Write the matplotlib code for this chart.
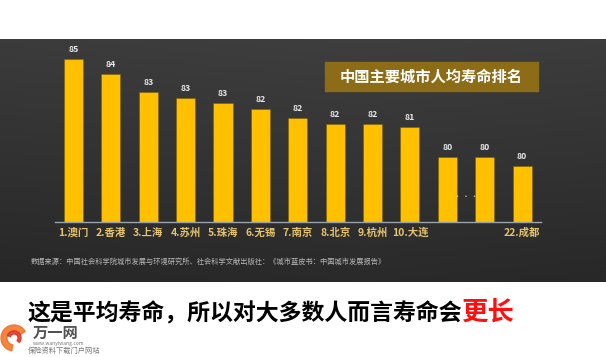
import matplotlib
matplotlib.use("Agg")
import matplotlib.pyplot as plt
from matplotlib.patches import Rectangle, Wedge
import numpy as np

plt.rcParams['font.family'] = ['Noto Sans CJK SC', 'DejaVu Sans']

# data
cities = ['1.澳门', '2.香港', '3.上海', '4.苏州', '5.珠海', '6.无锡', '7.南京',
          '8.北京', '9.杭州', '10.大连', '', '', '22.成都']
life_labels = [85, 84, 83, 83, 83, 82, 82, 82, 82, 81, 80, 80, 80]
# bar heights as drawn in the slide (not to a true scale)
bar_heights = [163, 148, 130, 124, 119, 113, 104, 98, 98, 95, 65, 65, 56]

title = '中国主要城市人均寿命排名'
source = '数据来源：中国社会科学院城市发展与环境研究所、社会科学文献出版社：《城市蓝皮书：中国城市发展报告》'
caption = '这是平均寿命，所以对大多数人而言寿命会'
caption_red = '更长'

W, H = 606, 357
fig = plt.figure(figsize=(W / 100, H / 100), dpi=100)
fig.patch.set_facecolor('white')

# background / decoration layer in pixel coordinates
bg = fig.add_axes([0, 0, 1, 1])
bg.set_xlim(0, W)
bg.set_ylim(H, 0)
bg.axis('off')

# dark gradient panel
yy = np.linspace(0, 1, 200)[:, None]
xx = np.linspace(0, 1, 300)[None, :]
shade = 0.245 - 0.08 * yy - 0.02 * np.abs(xx - 0.6)
img = np.dstack([shade, shade, shade])
bg.imshow(img, extent=[0, W, 282, 39], aspect='auto', zorder=0)

# title box
bg.add_patch(Rectangle((325, 62), 213, 29, color='#8c6c16', zorder=1))
bg.text(431, 77, title, color='white', fontsize=11, fontweight='bold',
        ha='center', va='center', zorder=2)

# source note
bg.text(31, 262, source, color='#b8b8b8', fontsize=5.2, ha='left', va='center')

# bars
ax = fig.add_axes([54.8 / W, (H - 222) / H, 486 / W, 175 / H])
ax.patch.set_alpha(0)
x = np.arange(len(cities))
bars = ax.bar(x, bar_heights, width=0.51, color='#ffc000', edgecolor='#7a5c00',
              linewidth=0.4, zorder=2)
for xi, h, lab in zip(x, bar_heights, life_labels):
    ax.annotate(str(lab), (xi, h), xytext=(0, 3.5), textcoords='offset points',
                ha='center', va='bottom', color='#e6e6e6', fontsize=6.3,
                fontweight='bold')
ax.set_xlim(-0.5, len(cities) - 0.5)
ax.set_ylim(0, 175)
ax.set_xticks(x)
ax.set_xticklabels(cities, color='#e3c36e', fontsize=7.5, fontweight='bold')
ax.tick_params(axis='x', length=0, pad=4)
ax.set_yticks([])
for s in ['top', 'right', 'left']:
    ax.spines[s].set_visible(False)
ax.spines['bottom'].set_color('#9aa3ad')
ax.spines['bottom'].set_linewidth(1.0)
# ellipsis between the 11th and 12th bar
ax.text(10.5, 25, '· · ·', color='#d0d0d0', fontsize=5, ha='center', va='center')

# caption below the panel
t = bg.text(27, 314, caption, color='black', fontsize=16.5, fontweight='bold',
            ha='left', va='center')
fig.canvas.draw()
bb = t.get_window_extent()
bg.text(bb.x1, 312, caption_red, color='#ff1010', fontsize=19, fontweight='bold',
        ha='left', va='center')

# logo watermark
bg.add_patch(Wedge((14, 338), 13, 100, 330, width=6, color='#f07020', alpha=0.85))
bg.add_patch(Wedge((14, 338), 7, 200, 40, width=3, color='#e03020', alpha=0.85))
bg.text(33, 333, '万一网', color='#333333', fontsize=11, fontweight='bold',
        ha='left', va='center', alpha=0.85)
bg.text(33, 344, 'www.wanyiwang.com', color='#777777', fontsize=3.6,
        ha='left', va='center')
bg.text(28, 351, '保险资料下载门户网站', color='#777777', fontsize=5.2,
        ha='left', va='center')

fig.savefig('out.png', dpi=100, facecolor='white')
